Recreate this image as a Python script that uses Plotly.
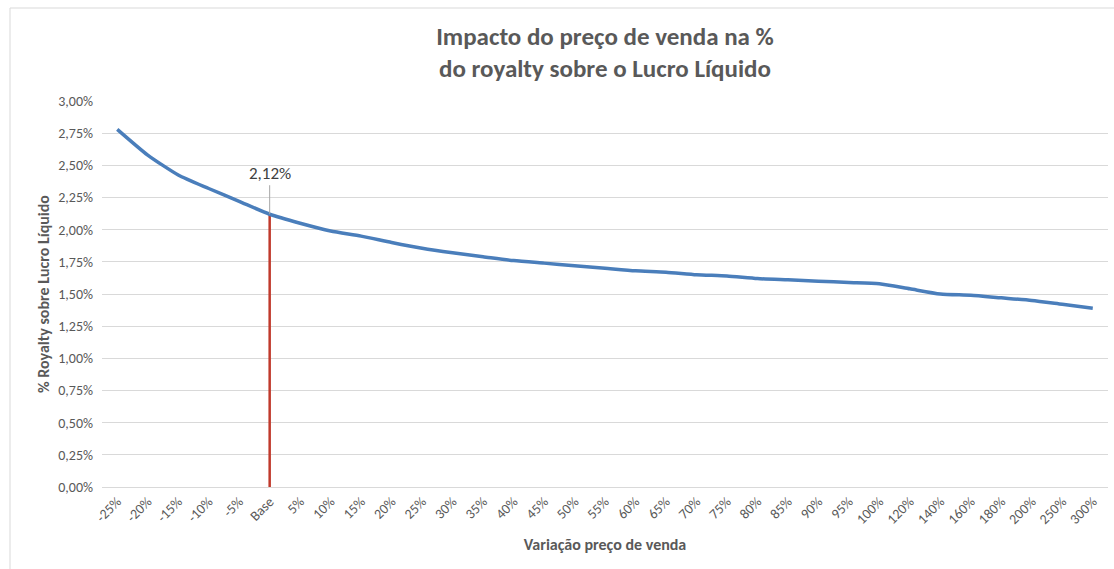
import plotly.graph_objects as go

categories = ["-25%", "-20%", "-15%", "-10%", "-5%", "Base", "5%", "10%", "15%", "20%",
              "25%", "30%", "35%", "40%", "45%", "50%", "55%", "60%", "65%", "70%",
              "75%", "80%", "85%", "90%", "95%", "100%", "120%", "140%", "160%", "180%",
              "200%", "250%", "300%"]
royalty_pct = [0.0278, 0.0258, 0.02425, 0.0232, 0.0222, 0.0212, 0.0205, 0.0199, 0.0195, 0.0190,
               0.01855, 0.0182, 0.0179, 0.0176, 0.0174, 0.0172, 0.0170, 0.0168, 0.0167, 0.0165,
               0.0164, 0.0162, 0.0161, 0.0160, 0.0159, 0.0158, 0.0154, 0.0150, 0.0149, 0.0147,
               0.0145, 0.0142, 0.0139]
base_label = "Base"
base_value = royalty_pct[categories.index(base_label)]

FONT = "Carlito, Lato, sans-serif"
GREY = "#595959"

fig = go.Figure()
fig.add_trace(go.Scatter(
    x=[base_label, base_label], y=[0, base_value], mode="lines",
    line=dict(color="#C0392B", width=2.5), showlegend=False, hoverinfo="skip"))
fig.add_trace(go.Scatter(
    x=categories, y=royalty_pct, mode="lines",
    line=dict(color="#4A7EBB", width=3.5, shape="spline", smoothing=0.6),
    showlegend=False))

fig.add_annotation(x=base_label, y=base_value, text="2,12%", showarrow=True,
                   arrowhead=0, arrowwidth=1, arrowcolor="#A6A6A6", ax=0, ay=-41,
                   font=dict(family=FONT, size=17, color="#404040"))

# chart border
fig.add_shape(type="rect", xref="paper", yref="paper",
              x0=(10 - 102) / 1006, x1=(1120 - 102) / 1006,
              y0=(487 - 575) / 386, y1=(487 - 8) / 386,
              line=dict(color="#D9D9D9", width=1), fillcolor="rgba(0,0,0,0)", layer="below")

fig.update_layout(
    width=1114, height=569,
    margin=dict(l=102, r=6, t=101, b=82),
    paper_bgcolor="white", plot_bgcolor="white",
    separators=",.",
    font=dict(family=FONT, color=GREY),
    title=dict(text="Impacto do preço de venda na %<br>do royalty sobre o Lucro Líquido",
               x=0.5, xref="paper", xanchor="center", y=0.921, yanchor="middle",
               font=dict(family=FONT, size=25, color=GREY, weight=600)),
    xaxis=dict(type="category", categoryorder="array", categoryarray=categories,
               range=[-0.5, len(categories) - 0.5],
               tickangle=-45, tickfont=dict(size=14, color=GREY), showgrid=False,
               showline=True, linecolor="#D9D9D9", ticks="",
               title=dict(text="<b>Variação preço de venda</b>", font=dict(size=16, color=GREY),
                          standoff=12)),
    yaxis=dict(range=[0, 0.03], dtick=0.0025, tickformat=".2%", showgrid=True,
               gridcolor="#D9D9D9", zeroline=False, showline=False, ticks="",
               tickfont=dict(size=14, color=GREY), ticklabelstandoff=8,
               title=dict(text="<b>% Royalty sobre Lucro Líquido</b>",
                          font=dict(size=16, color=GREY), standoff=4)),
)

fig.write_html("out.html", config={"displayModeBar": False},
               post_script="document.body.style.margin='0';")
